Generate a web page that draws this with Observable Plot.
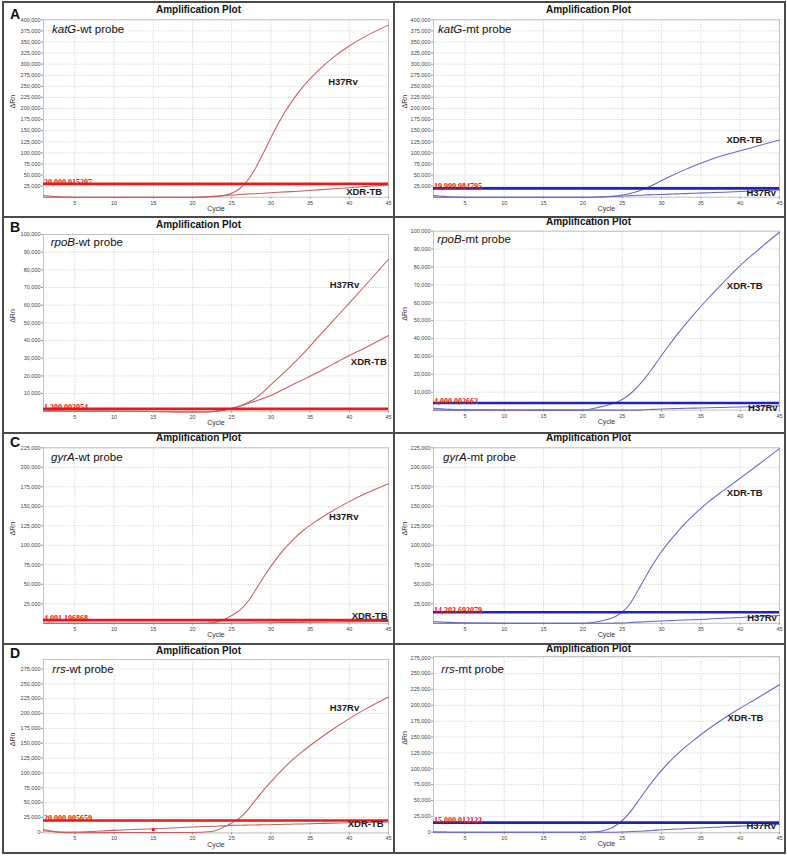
<!DOCTYPE html>
<html><head><meta charset="utf-8">
<script src="https://cdn.jsdelivr.net/npm/d3@7"></script>
<script src="https://cdn.jsdelivr.net/npm/@observablehq/plot@0.6"></script>
<style>
body{margin:0;background:#fff;}
#page{position:relative;width:787px;height:857px;overflow:hidden;font-family:"Liberation Sans",Arial,sans-serif;background:#fff}
.box{position:absolute;background:#4a4a4a}
.title{position:absolute;font-weight:bold;font-size:10px;line-height:10px;white-space:nowrap;transform:translateX(-50%);color:#111}
.letter{position:absolute;font-weight:bold;font-size:14px;line-height:14px;color:#111}
.probe{position:absolute;font-size:11.5px;line-height:11.5px;white-space:nowrap;color:#111}
.plot{position:absolute}
</style></head>
<body><div id="page"></div>
<script>
// ---------- data ----------
const cycles = [1,2,3,5,10,15,20,22,23,24,25,26,27,28,29,30,31,32,33,34,36,38,40,42,45];
const xTicks = [5,10,15,20,25,30,35,40,45];

const katG_wt_H37Rv = [0,0,0,0,0,0,0,500,1500,4000,9000,19000,37000,64000,98000,134000,168000,198000,224000,247000,285000,316000,341000,362000,388000];
const katG_wt_XDR   = [3800,2000,800,0,0,0,0,1500,2500,3500,5000,6000,7000,8000,9000,10000,11000,12000,13000,14000,16500,19000,21500,24000,27500];
const katG_mt_XDR   = [0,0,0,0,0,0,0,500,1200,2500,5000,8500,13500,20000,28000,37500,46000,54300,62200,69700,83500,95000,104500,114500,129000];
const katG_mt_H37Rv = [3500,2000,800,0,0,0,0,500,1000,1500,2500,3500,4200,5000,5700,6300,6900,7500,8100,8800,10000,11300,12800,14300,16500];

const rpoB_wt_H37Rv = [0,0,0,0,0,-200,-500,-400,0,600,1700,3000,4800,7200,10800,15000,19000,23200,27600,32000,41800,51500,61200,71000,86000];
const rpoB_wt_XDR   = [700,500,300,100,0,-200,-500,-400,0,500,1500,2800,4200,5700,7200,8900,11000,13300,15500,17600,22000,26800,31500,35800,42800];
const rpoB_mt_XDR   = [0,0,0,0,0,0,0,1600,2600,3900,5900,9000,13300,18400,24300,30500,36500,42300,47800,53000,62800,72000,80800,88500,99400];
const rpoB_mt_H37Rv = [1000,700,400,200,0,0,0,0,0,0,0,0,0,200,400,600,750,900,1000,1100,1300,1500,1700,2000,2400];

const gyrA_wt_H37Rv = [0,0,0,0,0,0,0,500,1500,4500,10000,16500,27000,42000,58000,73000,86500,98500,109000,118000,132500,145000,156000,166000,179000];
const gyrA_wt_XDR   = [0,0,0,0,0,0,0,0,0,0,300,400,500,600,700,800,900,1000,1100,1200,1400,1600,1800,2000,2300];
const gyrA_mt_XDR   = [0,0,0,0,0,0,0,2400,4500,8000,14300,25000,42000,60000,77000,92000,105000,117000,128000,138000,156000,171000,186000,201000,224000];
const gyrA_mt_H37Rv = [2300,1700,1200,600,0,0,0,0,0,200,500,1000,1500,2000,2500,3000,3400,3800,4200,4600,5500,6500,7500,8500,10000];

const rrs_wt_H37Rv = [4500,2500,500,-500,-300,0,0,1000,3400,9000,15700,24000,37000,54000,70000,85000,99500,113000,125000,136000,156000,174500,191500,207000,228000];
const rrs_wt_XDR   = [3000,1500,300,500,3400,6200,9000,10000,10500,11000,11800,12000,12300,12600,12800,13000,13400,13700,14000,14300,15000,15600,16300,16800,17400];
const rrs_mt_XDR   = [0,0,0,0,0,0,0,1000,3700,9000,18400,31600,48500,66000,82500,97500,111000,123000,134000,144000,163000,180000,195500,210000,232500];
const rrs_mt_H37Rv = [500,300,0,0,0,0,0,0,0,0,300,800,1300,2000,2800,3700,4300,4900,5500,6200,7300,8400,9500,10500,12000];

const thresholds = {katG_wt:30000.015207, katG_mt:19999.984795, rpoB_wt:1300.002054, rpoB_mt:4000.002662,
  gyrA_wt:4091.196868, gyrA_mt:14203.692079, rrs_wt:20000.005659, rrs_mt:15000.012123};

const yTicksKatG = [25000,50000,75000,100000,125000,150000,175000,200000,225000,250000,275000,300000,325000,350000,375000,400000];
const yTicksRpoB = [10000,20000,30000,40000,50000,60000,70000,80000,90000,100000];
const yTicksGyrA = [25000,50000,75000,100000,125000,150000,175000,200000,225000];
const yTicksRrs  = [0,25000,50000,75000,100000,125000,150000,175000,200000,225000,250000,275000];

const selectedPoint = [{cycle:15, value:4500}];

// ---------- layout ----------
const rows = [
  {letter:"A", top:2,   h:215, titleY:[11,11],       letterTop:7,   gene:"katG", yDomain:[[0,400000],[0,400000]], yTicks:yTicksKatG,
   m:[[17.3,20.3],[17.3,20.3]], probeBase:[33.7,33.7], probeX:[52,438]},
  {letter:"B", top:217, h:216, titleY:[225.7,223.3], letterTop:220, gene:"rpoB", yDomain:[[0,100000],[0,100000]], yTicks:yTicksRpoB,
   m:[[17,22.3],[13.7,23.4]], probeBase:[246.7,244], probeX:[50.7,437.3]},
  {letter:"C", top:433, h:211, titleY:[439,439],     letterTop:435, gene:"gyrA", yDomain:[[0,225000],[0,225000]], yTicks:yTicksGyrA,
   m:[[14.3,21.2],[14.3,21.2]], probeBase:[461.7,461.7], probeX:[51,443]},
  {letter:"D", top:644, h:209, titleY:[652,650],     letterTop:646, gene:"rrs", yDomain:[[-1000,291000],[-1000,277000]], yTicks:yTicksRrs,
   m:[[15,20.5],[12,20.7]], probeBase:[673.3,673.3], probeX:[52.3,441.3]}
];

const panelSeries = {
  katG_wt:[["H37Rv",katG_wt_H37Rv],["XDR-TB",katG_wt_XDR]],
  katG_mt:[["XDR-TB",katG_mt_XDR],["H37Rv",katG_mt_H37Rv]],
  rpoB_wt:[["H37Rv",rpoB_wt_H37Rv],["XDR-TB",rpoB_wt_XDR]],
  rpoB_mt:[["XDR-TB",rpoB_mt_XDR],["H37Rv",rpoB_mt_H37Rv]],
  gyrA_wt:[["H37Rv",gyrA_wt_H37Rv],["XDR-TB",gyrA_wt_XDR]],
  gyrA_mt:[["XDR-TB",gyrA_mt_XDR],["H37Rv",gyrA_mt_H37Rv]],
  rrs_wt:[["H37Rv",rrs_wt_H37Rv],["XDR-TB",rrs_wt_XDR]],
  rrs_mt:[["XDR-TB",rrs_mt_XDR],["H37Rv",rrs_mt_H37Rv]]
};
const labelPos = {
  katG_wt:{"H37Rv":[37.3,259000],"XDR-TB":[39.6,12800]},
  katG_mt:{"XDR-TB":[38.25,130000],"H37Rv":[40.8,9800]},
  rpoB_wt:{"H37Rv":[37.5,71500],"XDR-TB":[40.2,28100]},
  rpoB_mt:{"XDR-TB":[38.3,69600],"H37Rv":[41,1200]},
  gyrA_wt:{"H37Rv":[37.4,136000],"XDR-TB":[40.3,8800]},
  gyrA_mt:{"XDR-TB":[38.3,167000],"H37Rv":[40.9,7000]},
  rrs_wt:{"H37Rv":[37.5,210000],"XDR-TB":[39.8,13500]},
  rrs_mt:{"XDR-TB":[38.4,180500],"H37Rv":[40.8,10500]}
};

const cols = [
  {left:0,   width:394, ml:43, mr:6, titleX:198.5, ylabDx:-30.3, type:"wt", curve:"#c85f5e", thr:"#e01c1c"},
  {left:394, width:391, ml:39, mr:6, titleX:588.5, ylabDx:-28.3, type:"mt", curve:"#6767c6", thr:"#2020c0"}
];

const page = document.getElementById("page");
function addDiv(cls, style, html){ const d=document.createElement("div"); d.className=cls; Object.assign(d.style, style); if(html!=null) d.innerHTML=html; page.appendChild(d); return d; }

const fmtThr = d3.format(",.6f");
const fmtY = d3.format(",");

rows.forEach(row => {
  cols.forEach((col, ci) => {
    const key = row.gene + "_" + col.type;
    const data = [];
    panelSeries[key].forEach(([name, vals]) => cycles.forEach((c,i) => data.push({cycle:c, value:vals[i], name})));
    const labels = Object.entries(labelPos[key]).map(([name,[c,v]]) => ({name, cycle:c, value:v}));
    const thr = thresholds[key];
    const marks = [
      Plot.gridX(xTicks, {stroke:"#cfcfcf", strokeOpacity:1, strokeDasharray:"1,1.5"}),
      Plot.gridY(row.yTicks, {stroke:"#cfcfcf", strokeOpacity:1, strokeDasharray:"1,1.5"}),
      Plot.frame({stroke:"#c2c2c2"}),
      Plot.axisX(xTicks, {tickSize:2, tickPadding:1.5, label:null, stroke:"#999", tickFormat:d=>d}),
      Plot.axisY(row.yTicks, {tickSize:2, tickPadding:1, label:null, stroke:"#999", tickFormat:fmtY}),
      Plot.line(data, {x:"cycle", y:"value", z:"name", stroke:col.curve, strokeWidth:1.05, curve:"monotone-x"}),
      Plot.ruleY([thr], {stroke:col.thr, strokeWidth:2.6}),
      Plot.text([thr], {x:()=>1, y:d=>d, text:d=>fmtThr(d), textAnchor:"start", lineAnchor:"bottom", dx:0.5, dy:0.8,
        fill:"#e3141e", fontWeight:"bold", fontFamily:"'Liberation Serif','Times New Roman',serif", fontSize:8}),
      Plot.text(labels, {x:"cycle", y:"value", text:"name", textAnchor:"start", fontWeight:"bold", fontSize:9.5, fill:"#1a1a1a"}),
      Plot.text(["Cycle"], {frameAnchor:"bottom", text:d=>d, dy:13.5, fontSize:7, fill:"#333"}),
      Plot.text(["ΔRn"], {frameAnchor:"left", text:d=>d, dx:col.ylabDx, rotate:-90, fontSize:7, fill:"#333"})
    ];
    if (key === "rrs_wt") marks.push(Plot.dot(selectedPoint, {x:"cycle", y:"value", symbol:"square", r:1.6, fill:"#d02020"}));
    const svg = Plot.plot({
      width: col.width, height: row.h,
      marginLeft: col.ml, marginRight: col.mr, marginTop: row.m[ci][0], marginBottom: row.m[ci][1],
      x: {domain:[1,45]},
      y: {domain: row.yDomain[ci]},
      style: {fontFamily:"'Liberation Sans',Arial,sans-serif", fontSize:"5.5px", color:"#444", background:"transparent", overflow:"visible"},
      marks
    });
    svg.classList.add("plot");
    svg.style.left = col.left + "px";
    svg.style.top = row.top + "px";
    page.appendChild(svg);

    addDiv("title", {left: col.titleX + "px", top: (row.titleY[ci] - 6) + "px"}, "Amplification Plot");
    addDiv("probe", {left: row.probeX[ci] + "px", top: (row.probeBase[ci] - 9.73) + "px"}, "<i>" + row.gene + "</i>-" + col.type + " probe");
  });
  addDiv("letter", {left:"10px", top: row.letterTop + "px"}, row.letter);
});

// panel borders
addDiv("box", {left:"2px", top:"1px", width:"784px", height:"2px"});
addDiv("box", {left:"2px", top:"852px", width:"784px", height:"2px"});
addDiv("box", {left:"2px", top:"1px", width:"2px", height:"853px"});
addDiv("box", {left:"784px", top:"1px", width:"2px", height:"853px"});
addDiv("box", {left:"393px", top:"1px", width:"2px", height:"853px"});
[216, 432, 643].forEach(y => addDiv("box", {left:"2px", top:y+"px", width:"784px", height:"2px"}));
</script></body></html>
